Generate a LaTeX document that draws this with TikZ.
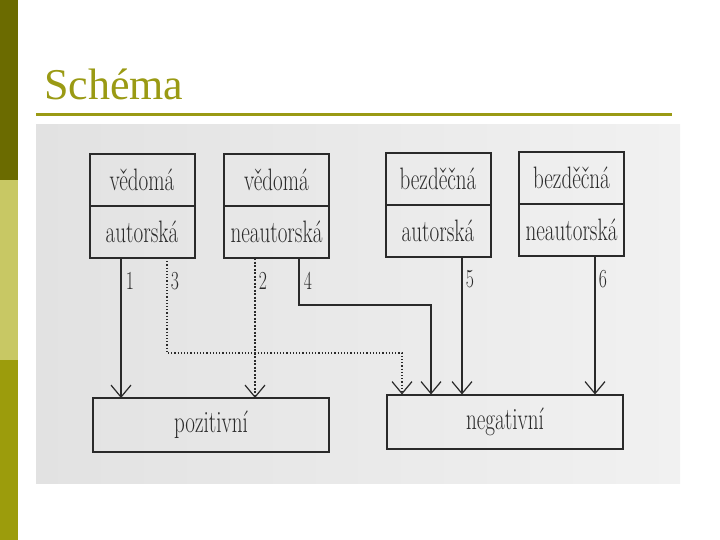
\documentclass[tikz,border=0pt]{standalone}
\usepackage{fontspec}
\usepackage{graphicx}
\newfontfamily\titlefont{Liberation Serif}
\usepackage{tikz}
\usetikzlibrary{arrows.meta,positioning}
\definecolor{olivedark}{HTML}{6B6B00}
\definecolor{olivelight}{HTML}{C8C864}
\definecolor{olivemid}{HTML}{9C9C0C}
\definecolor{titleolive}{HTML}{9A9A14}
\definecolor{scanink}{HTML}{2A2A2A}
\definecolor{scangrey}{HTML}{E2E2E2}
\definecolor{scanlight}{HTML}{F1F1F1}
\newcommand{\squeeze}[1]{\scalebox{0.68}[1]{#1}}

\begin{document}
\begin{tikzpicture}[
x=1pt, y=-1pt,
cell/.style={rectangle, draw=scanink, line width=2pt, minimum width=105pt, minimum height=52pt, inner sep=0pt, outer sep=0pt, text=scanink, font=\fontsize{31}{31}\selectfont},
outcome/.style={cell, minimum width=236pt, minimum height=54pt},
num/.style={text=scanink, font=\fontsize{26}{26}\selectfont, inner sep=0pt},
link/.style={-{Straight Barb[length=12pt,width=20pt]}, line width=1.2pt, scanink},
dotlink/.style={link, dotted},
dashlink/.style={link, dash pattern=on 2pt off 1.5pt}
]
\useasboundingbox (0,0) rectangle (720,540);

% --- Slide frame ---
\fill[olivedark] (0,0) rectangle (18,180);
\fill[olivelight] (0,180) rectangle (18,360);
\fill[olivemid] (0,360) rectangle (18,540);
\node[anchor=base west, inner sep=0pt, text=titleolive, font=\titlefont\fontsize{44}{44}\selectfont] (title) at (44,100) {Schéma};
\draw[titleolive, line width=3pt] (36,114.5) -- (672,114.5);
\shade[left color=scangrey, right color=scanlight] (36,125) rectangle (680,483);

% --- Upper boxes ---
\node[cell] (va) at (142,180) {\squeeze{vědomá}};
\node[cell, below=0pt of va] (aa) {\squeeze{autorská}};
\node[cell] (vn) at (276.5,180) {\squeeze{vědomá}};
\node[cell, below=0pt of vn] (an) {\squeeze{neautorská}};
\node[cell] (ba) at (438,179) {\squeeze{bezděčná}};
\node[cell, below=0pt of ba] (bau) {\squeeze{autorská}};
\node[cell] (bn) at (571.5,178) {\squeeze{bezděčná}};
\node[cell, below=0pt of bn] (bnu) {\squeeze{neautorská}};

% --- Outcomes ---
\node[outcome] (poz) at (211,425) {\squeeze{pozitivní}};
\node[outcome] (neg) at (505,421.5) {\squeeze{negativní}};

% --- Connectors ---
\coordinate (j3) at (402,353);
\coordinate (j4) at (431,305);
\draw[link] ([xshift=-21pt]aa.south) -- ([xshift=-21pt]aa.south |- poz.north);
\draw[dotlink] ([xshift=25pt]aa.south) |- (j3) -- (j3 |- neg.north);
\draw[dashlink] ([xshift=-21.5pt]an.south) -- ([xshift=-21.5pt]an.south |- poz.north);
\draw[link] ([xshift=22.5pt]an.south) |- (j4) -- (j4 |- neg.north);
\draw[link] ([xshift=24pt]bau.south) -- ([xshift=24pt]bau.south |- neg.north);
\draw[link] ([xshift=23.5pt]bnu.south) -- ([xshift=23.5pt]bnu.south |- neg.north);

% --- Numbers ---
\node[num] (n1) at (130,281) {\squeeze{1}};
\node[num] (n3) at (175,281) {\squeeze{3}};
\node[num] (n2) at (263,281) {\squeeze{2}};
\node[num] (n4) at (308,281) {\squeeze{4}};
\node[num] (n5) at (470,279) {\squeeze{5}};
\node[num] (n6) at (603,279) {\squeeze{6}};

\end{tikzpicture}
\end{document}
